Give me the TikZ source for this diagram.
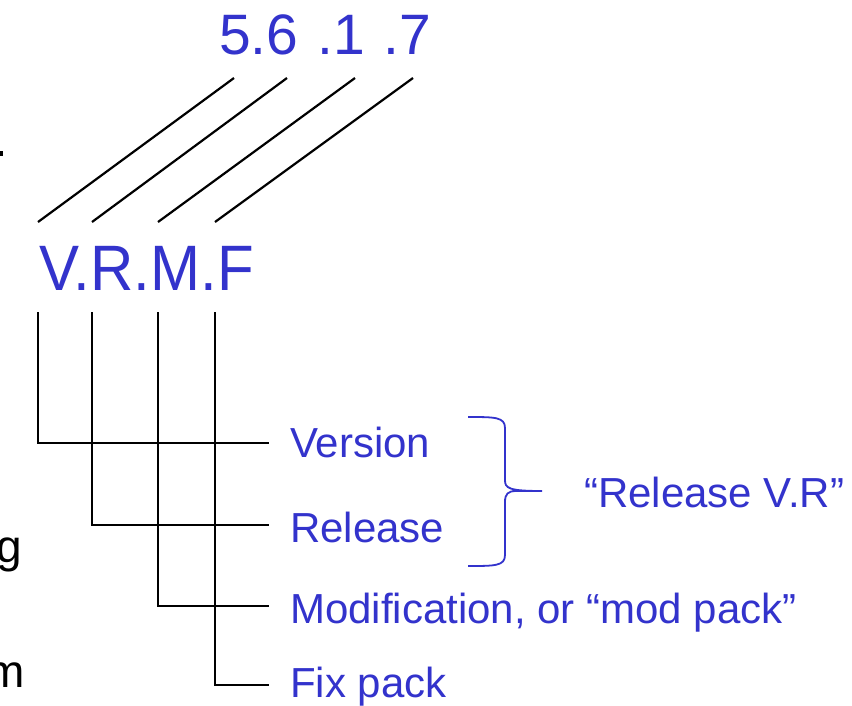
\documentclass[tikz,border=0pt]{standalone}
\usepackage{fontspec}
\setmainfont{Liberation Sans}
\definecolor{lblue}{RGB}{51,51,204}
\begin{document}
\begin{tikzpicture}[x=1pt,y=-1pt,
  wire/.style={line width=2.2pt,black},
  lab/.style={anchor=base west,inner sep=0pt,text=lblue,font=\fontsize{42}{42}\selectfont},
  big/.style={anchor=base west,inner sep=0pt,text=lblue},
  cut/.style={anchor=base west,inner sep=0pt,text=black,font=\fontsize{46}{46}\selectfont}]
\useasboundingbox (0,0) rectangle (852,705);
\clip (0,0) rectangle (852,705);
% top number and V.R.M.F
\node[big,font=\fontsize{57}{57}\selectfont] (num) at (219,54) {5.6\hspace{3pt} .1\hspace{3pt} .7};
\node[big,font=\fontsize{60}{60}\selectfont,yscale=1.07,transform shape] (vrmf) at (39,290) {V.R.M.F};
% labels
\node[lab] (ver) at (290,457) {Version};
\node[lab] (rel) at (290,542) {Release};
\node[lab] (mod) at (290,623) {Modification, or “mod pack”};
\node[lab] (fix) at (290,697) {Fix pack};
\node[lab] (relvr) at (584,507) {“Release V.R”};
% cropped left texts
\node[cut,anchor=base east] (g) at (22,562) {g};
\node[cut,anchor=base east] (m) at (25,687) {m};
\coordinate (dash) at (0,153.5);
\fill[black] (dash) ++(0,-2.5) rectangle ++(2.5,5);
% diagonal connectors
\coordinate (t1) at (234,78); \coordinate (b1) at (38,222);
\coordinate (t2) at (287,78); \coordinate (b2) at (92,222);
\coordinate (t3) at (355,78); \coordinate (b3) at (158,222);
\coordinate (t4) at (413,78); \coordinate (b4) at (215,222);
\draw[wire] (t1) -- (b1);
\draw[wire] (t2) -- (b2);
\draw[wire] (t3) -- (b3);
\draw[wire] (t4) -- (b4);
% elbow connectors
\coordinate (v1) at (38,312); \coordinate (v2) at (92,312);
\coordinate (v3) at (158,312); \coordinate (v4) at (215,312);
\coordinate (e1) at (269,443); \coordinate (e2) at (269,525);
\coordinate (e3) at (269,606); \coordinate (e4) at (269,685);
\draw[wire] (v1) |- (e1);
\draw[wire] (v2) |- (e2);
\draw[wire] (v3) |- (e3);
\draw[wire] (v4) |- (e4);
% brace
\coordinate (bt) at (468,417); \coordinate (bb) at (468,566); \coordinate (tip) at (542,491);
\draw[lblue,line width=1.8pt] (bt) .. controls (495,417) and (505,417) .. (505,428)
  -- (505,480) .. controls (505,488) and (508,491) .. (tip)
  (tip) -- (516,491) .. controls (508,491) and (505,494) .. (505,502)
  -- (505,555) .. controls (505,566) and (495,566) .. (bb);
\end{tikzpicture}
\end{document}
